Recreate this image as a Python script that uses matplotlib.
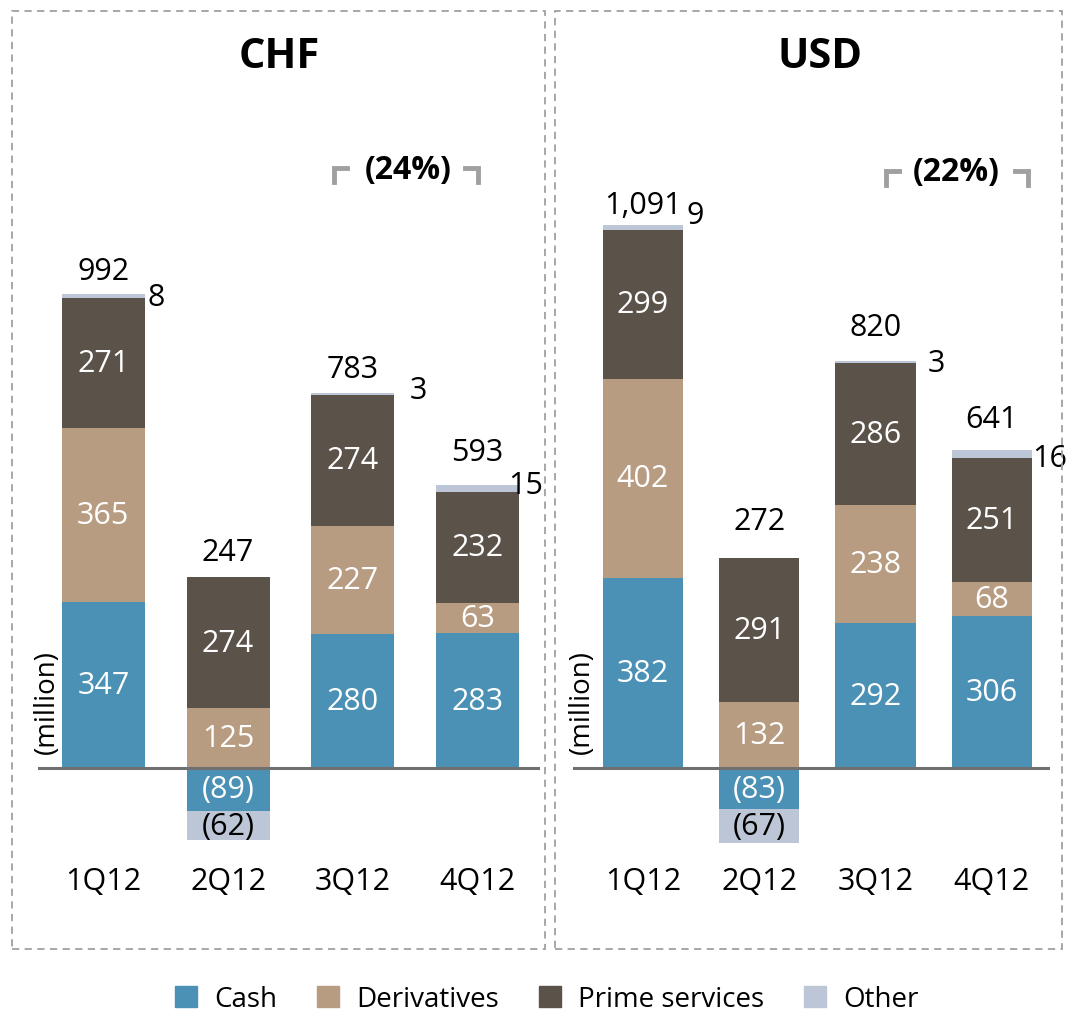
import numpy as np
import matplotlib
matplotlib.use('Agg')
import matplotlib.pyplot as plt
from matplotlib.patches import Rectangle, Patch
from matplotlib.lines import Line2D

plt.rcParams['font.family'] = ['Open Sans', 'DejaVu Sans']

quarters = ['1Q12', '2Q12', '3Q12', '4Q12']
series = ['Cash', 'Derivatives', 'Prime services', 'Other']
colors = ['#4a91b5', '#b89c82', '#5b5249', '#bcc6d6']
label_colors = ['white', 'white', 'white', 'black']

chf_cash = [347, -89, 280, 283]
chf_deriv = [365, 125, 227, 63]
chf_prime = [271, 274, 274, 232]
chf_other = [8, -62, 3, 15]
chf_total = [992, 247, 783, 593]
chf_change = '(24%)'

usd_cash = [382, -83, 292, 306]
usd_deriv = [402, 132, 238, 68]
usd_prime = [299, 291, 286, 251]
usd_other = [9, -67, 3, 16]
usd_total = [1091, 272, 820, 641]
usd_change = '(22%)'

W, H = 1072, 1012
PT = 0.72  # points per pixel at dpi=100
fig = plt.figure(figsize=(W / 100, H / 100), dpi=100)


def fx(px):
    return px / W


def fy(py):
    return 1 - py / H


def fmt(v):
    s = '{:,}'.format(abs(v))
    return '(%s)' % s if v < 0 else s


def panel(rect, title, title_x, cash, deriv, prime, other, total,
          ylim, width, xlim, total_dy, other_off):
    ax = fig.add_axes(rect)
    stacks = [cash, deriv, prime, other]
    x = np.arange(len(quarters))
    pos_base = np.zeros(len(quarters))
    neg_base = np.zeros(len(quarters))
    for vals, col, lc in zip(stacks, colors, label_colors):
        vals = np.array(vals, dtype=float)
        base = np.where(vals >= 0, pos_base, neg_base)
        ax.bar(x, vals, width, bottom=base, color=col, zorder=2)
        is_other = col == colors[3]
        for i, v in enumerate(vals):
            if is_other and v > 0:
                continue
            ax.text(x[i], base[i] + v / 2, fmt(int(v)), ha='center',
                    va='center', color=lc, fontsize=22, zorder=3)
        pos_base = np.where(vals >= 0, pos_base + vals, pos_base)
        neg_base = np.where(vals < 0, neg_base + vals, neg_base)
    tops = pos_base
    # small "Other" values next to the top of each bar
    for i, v in enumerate(other):
        if v > 0:
            dx, dy = other_off[i]
            ax.annotate(fmt(v), (x[i] + width / 2, tops[i]),
                        xytext=(dx * PT, dy * PT), textcoords='offset points',
                        ha='left', va='center', fontsize=22)
    # totals above the bars
    for i, t in enumerate(total):
        ax.annotate(fmt(t), (x[i], tops[i]), xytext=(0, total_dy[i] * PT),
                    textcoords='offset points', ha='center', va='center',
                    fontsize=22)
    ax.axhline(0, color='#707070', lw=2.2, zorder=4)
    ax.set_xlim(*xlim)
    ax.set_ylim(*ylim)
    ax.set_xticks(x)
    ax.set_xticklabels(quarters, fontsize=22)
    ax.tick_params(axis='x', length=0, pad=5)
    ax.set_yticks([])
    for s in ax.spines.values():
        s.set_visible(False)
    ax.annotate('(million)', (0.018, 0), xycoords=ax.get_yaxis_transform(),
                xytext=(0, 15 * PT), textcoords='offset points',
                rotation=90, ha='center', va='bottom', fontsize=20)
    fig.text(fx(title_x), fy(57), title, ha='center', va='center',
             fontsize=30, fontweight='bold')
    return ax


# left: CHF
panel([fx(38), fy(860), fx(540 - 38), (860 - 140) / H], 'CHF', 279,
      chf_cash, chf_deriv, chf_prime, chf_other, chf_total,
      (-190, 1316), 0.664, (-0.524, 3.5),
      total_dy=[23, 25, 24, 33],
      other_off=[(3, -3), (0, 0), (15, 3), (-11, 0)])
# right: USD
panel([fx(573), fy(860), fx(1050 - 573), (860 - 140) / H], 'USD', 820,
      usd_cash, usd_deriv, usd_prime, usd_other, usd_total,
      (-183, 1266), 0.69, (-0.6, 3.5),
      total_dy=[20, 37, 34, 31],
      other_off=[(4, 10), (0, 0), (12, -2), (0, -8)])

# change brackets over 3Q12-4Q12
for cx, ty, bl, br, txt in [(408, 170, 334, 478, chf_change),
                            (956, 173, 886, 1028, usd_change)]:
    fig.text(fx(cx), fy(ty), txt, ha='center', va='center', fontsize=23,
             fontweight='bold')
    y0, y1 = fy(ty - 1), fy(ty + 13)
    fig.add_artist(Line2D([fx(bl), fx(bl), fx(bl + 13)], [y1, y0, y0],
                          color='#a0a0a0', lw=3.5, solid_joinstyle='miter',
                          transform=fig.transFigure))
    fig.add_artist(Line2D([fx(br - 13), fx(br), fx(br)], [y0, y0, y1],
                          color='#a0a0a0', lw=3.5, solid_joinstyle='miter',
                          transform=fig.transFigure))

# dashed panel frames
for x0, x1 in [(12, 545), (555, 1062)]:
    fig.add_artist(Rectangle((fx(x0), fy(950)), fx(x1 - x0), (950 - 12) / H,
                             fill=False, ec='#a0a0a0', lw=1.3, ls=(0, (4, 3)),
                             transform=fig.transFigure))

handles = [Patch(color=c, label=s) for c, s in zip(colors, series)]
fig.legend(handles=handles, loc='center', bbox_to_anchor=(0.51, fy(1000)),
           ncol=4, frameon=False, fontsize=20, handlelength=0.8,
           handleheight=0.8, columnspacing=1.45, handletextpad=0.6)

fig.savefig('out.png', dpi=100)
